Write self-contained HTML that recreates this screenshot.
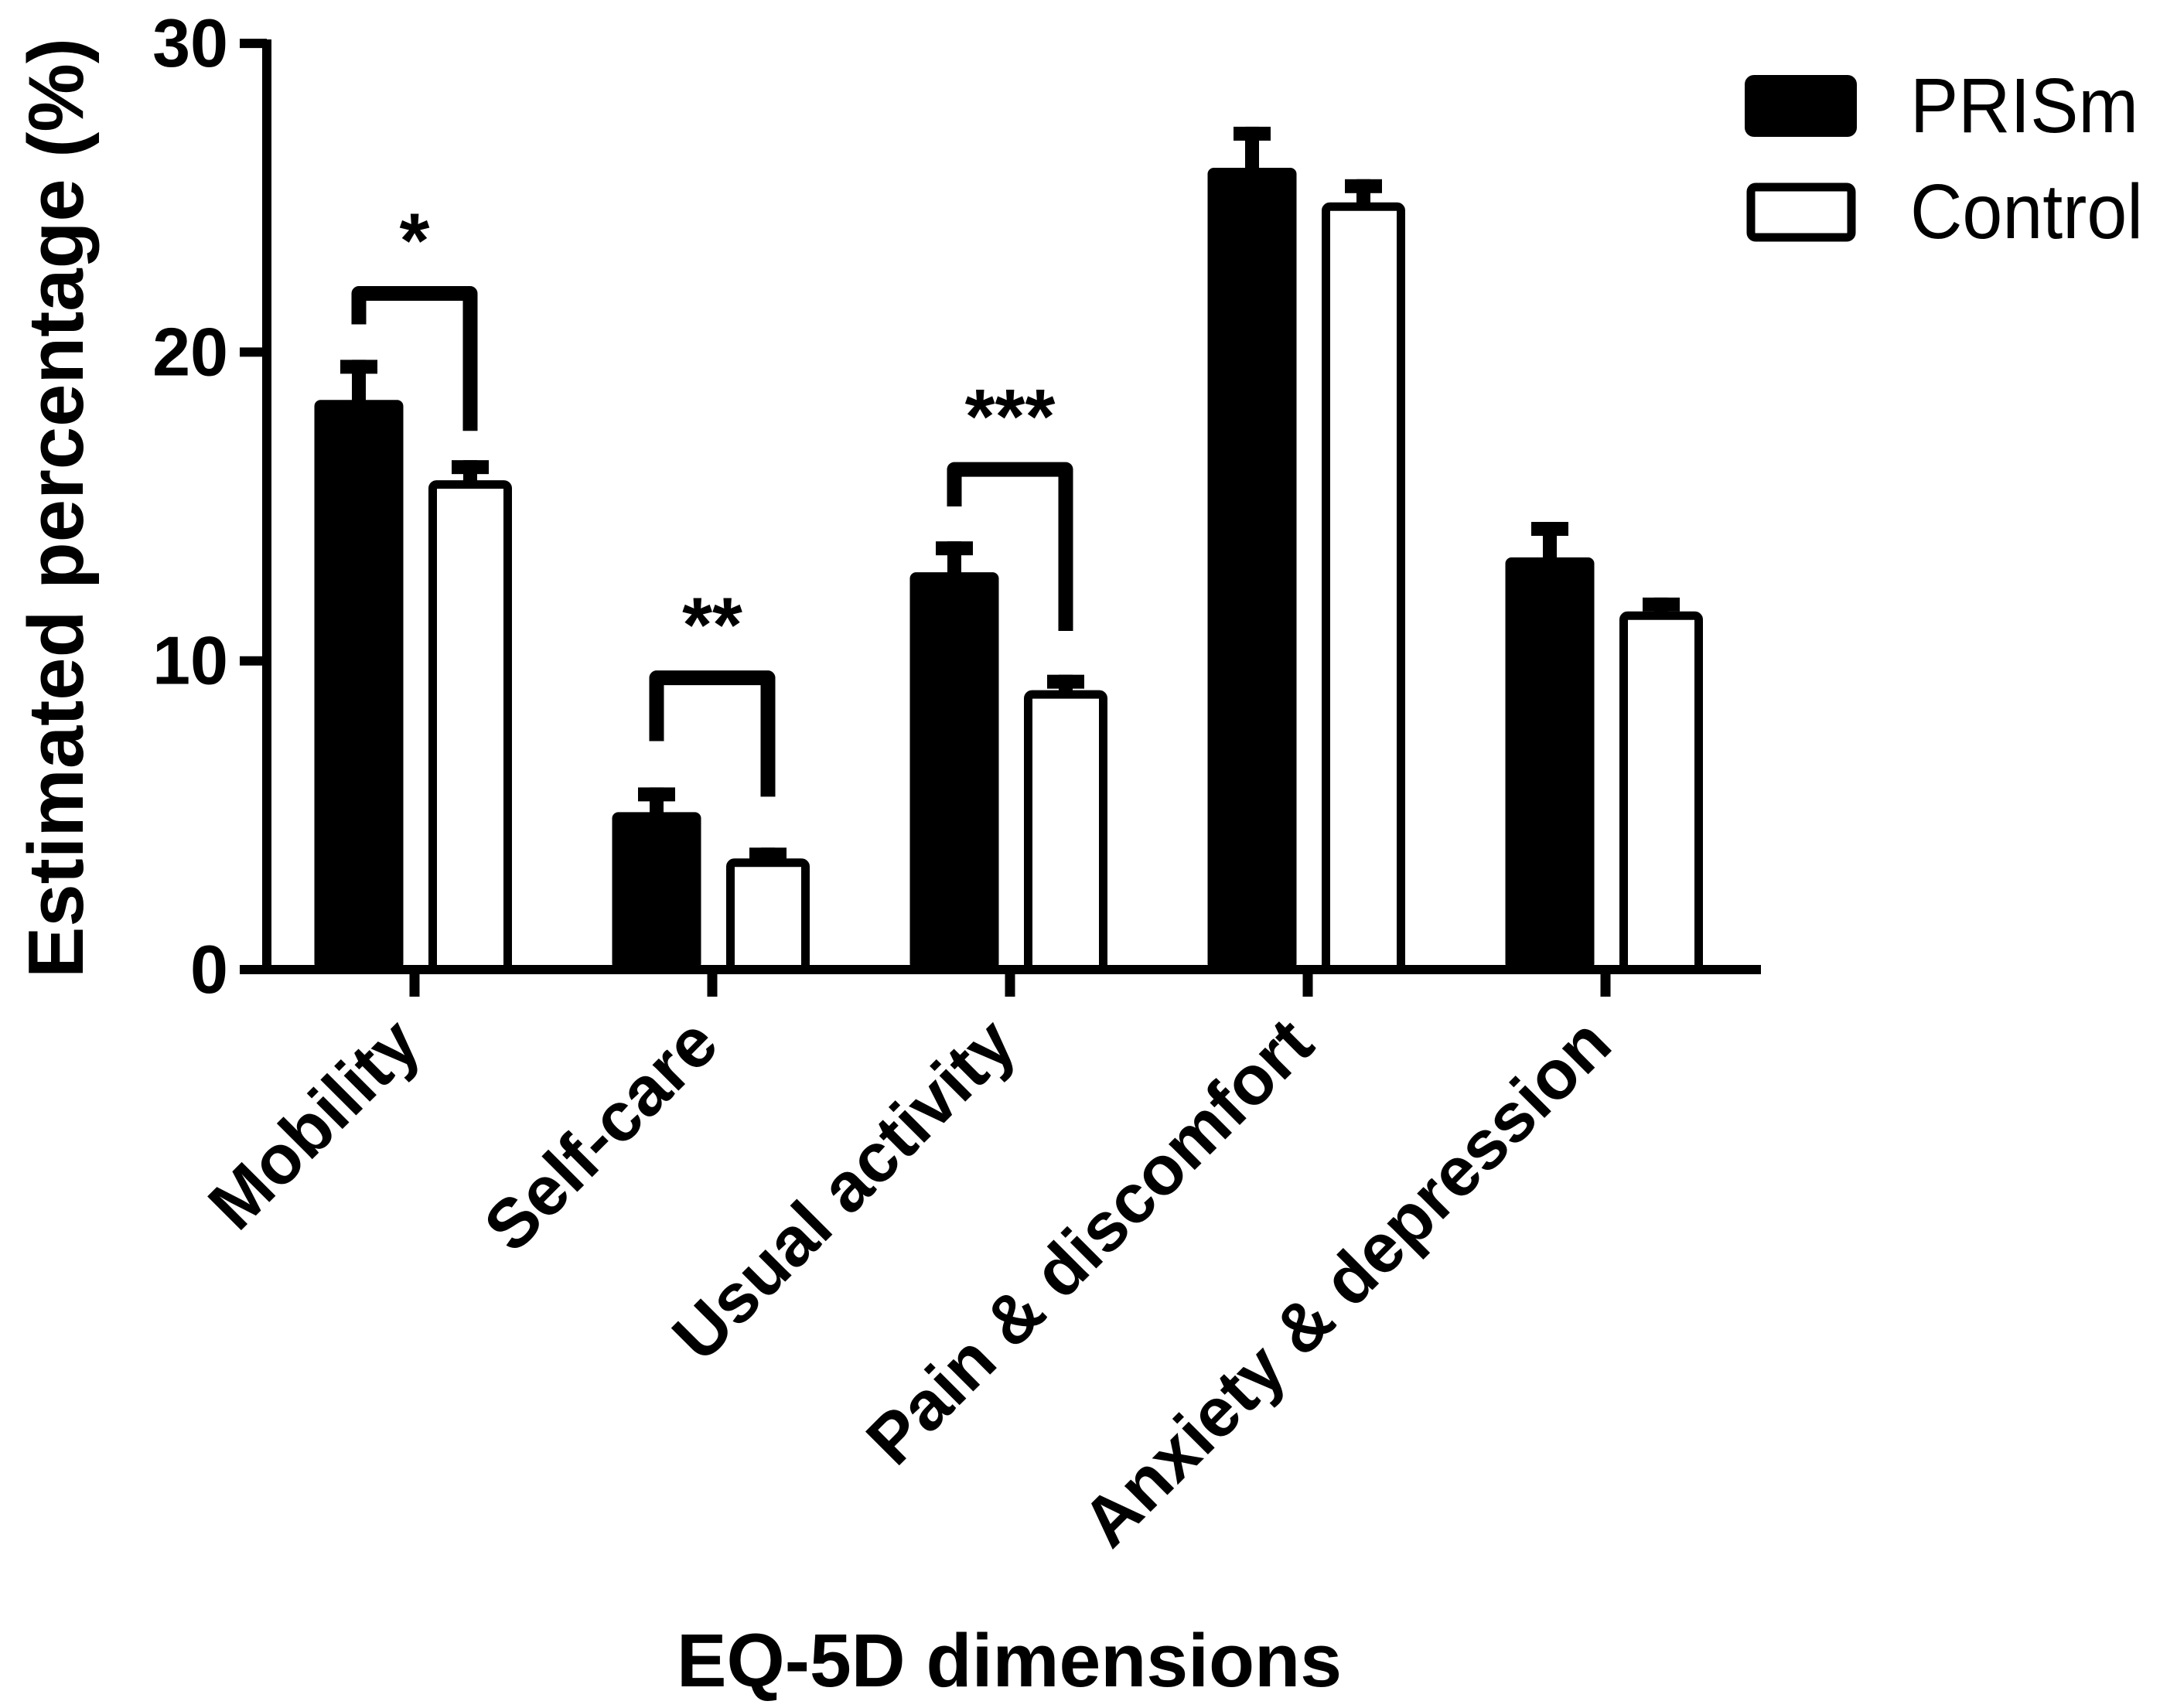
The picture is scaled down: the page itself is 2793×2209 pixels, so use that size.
<!DOCTYPE html>
<html><head><meta charset="utf-8"><style>html,body{margin:0;padding:0;background:#fff}svg{display:block}</style></head>
<body>
<svg id="chart" width="2793" height="2209" viewBox="0 0 2793 2209" xmlns="http://www.w3.org/2000/svg" font-family="Liberation Sans, Arial, sans-serif">
<rect width="2793" height="2209" fill="#fff"/>
<g id="plot"></g>
</svg>
<script>
const categories = ["Mobility", "Self-care", "Usual activity", "Pain & discomfort", "Anxiety & depression"];
const prismValues = [18.45, 5.1, 12.87, 25.97, 13.35];
const prismErrors = [1.3, 0.8, 1.0, 1.33, 1.15];
const controlValues = [15.85, 3.6, 9.05, 24.85, 11.6];
const controlErrors = [0.65, 0.35, 0.5, 0.75, 0.45];
const yTicks = [0, 10, 20, 30];
const sigCategories = [0, 1, 2];
const sigLabels = ["*", "**", "***"];
const sigTop = [21.9, 9.45, 16.2];
const sigLeftEnd = [20.9, 7.4, 15.0];
const sigRightEnd = [17.45, 5.6, 10.97];

const NS = "http://www.w3.org/2000/svg";
const g = document.getElementById('plot');
const Y0 = 1254, PX = 39.93;
function y(v){ return Y0 - v*PX; }
function xc(i){ return 536 + i*385; }
function mk(tag, attrs, parent){ const e=document.createElementNS(NS,tag); for(const k in attrs) e.setAttribute(k,attrs[k]); (parent||g).appendChild(e); return e; }

categories.forEach((c,i)=>{
  const bx = xc(i)-72, wx = xc(i)+72;
  let e = mk('rect',{x:bx-9,y:y(prismValues[i]+prismErrors[i]),width:18,height:y(prismValues[i])-y(prismValues[i]+prismErrors[i])+4,fill:'#000'});
  
  
  e = mk('rect',{x:bx-24,y:y(prismValues[i]+prismErrors[i]),width:48,height:18,fill:'#000'});
  
  
  e = mk('rect',{x:bx-57.5,y:y(prismValues[i]),width:115,height:Y0-y(prismValues[i]),rx:8,fill:'#000'});
  
  
  e = mk('rect',{x:wx-9,y:y(controlValues[i]+controlErrors[i]),width:18,height:y(controlValues[i])-y(controlValues[i]+controlErrors[i])+4,fill:'#000'});
  
  
  e = mk('rect',{x:wx-24,y:y(controlValues[i]+controlErrors[i]),width:48,height:18,fill:'#000'});
  
  
  e = mk('rect',{x:wx-54+5.5,y:y(controlValues[i])+5.5,width:108-11,height:Y0-y(controlValues[i])-5.5,rx:5,fill:'#fff',stroke:'#000','stroke-width':11});
  
  
  e = mk('line',{x1:xc(i),y1:Y0,x2:xc(i),y2:1289,stroke:'#000','stroke-width':13});
  
  
  const lx = xc(i)+12, ly = 1355;
  e = mk('text',{x:lx,y:ly,'text-anchor':'end','font-size':90,'font-weight':'bold',transform:'rotate(-45 '+lx+' '+ly+')'});
  e.textContent = c;
  
  
});

sigCategories.forEach((ci,k)=>{
  const l = xc(ci)-72, r = xc(ci)+72;
  let e = mk('path',{d:`M${l} ${y(sigLeftEnd[k])} L${l} ${y(sigTop[k])} L${r} ${y(sigTop[k])} L${r} ${y(sigRightEnd[k])}`,fill:'none',stroke:'#000','stroke-width':19,'stroke-linejoin':'round'});
  
  
  e = mk('text',{x:(l+r)/2,y:y(sigTop[k])-34,'text-anchor':'middle','font-size':100,'font-weight':'bold'});
  e.textContent = sigLabels[k];
  
  
});

let a = mk('line',{x1:345,y1:51,x2:345,y2:1260,stroke:'#000','stroke-width':12});


a = mk('line',{x1:339,y1:Y0,x2:2277,y2:Y0,stroke:'#000','stroke-width':12});


yTicks.forEach(t=>{
  let e = mk('line',{x1:310,y1:y(t),x2:345,y2:y(t),stroke:'#000','stroke-width':12});
  
  
  e = mk('text',{x:295,y:y(t)+30,'text-anchor':'end','font-size':88,'font-weight':'bold'});
  e.textContent = String(t);
  
  
});
</script>
<svg style="position:absolute;left:0;top:0" width="2793" height="2209" xmlns="http://www.w3.org/2000/svg" font-family="Liberation Sans, Arial, sans-serif">
<text x="107" y="1265" font-size="101" font-weight="bold" textLength="1216" lengthAdjust="spacingAndGlyphs" transform="rotate(-90 107 1265)">Estimated percentage (%)</text>
<text x="1305" y="2181" font-size="97" font-weight="bold" text-anchor="middle" textLength="860" lengthAdjust="spacingAndGlyphs">EQ-5D dimensions</text>
<g>
<rect x="2256" y="97" width="145" height="80" rx="12" fill="#000"/>
<text x="2470" y="171" font-size="100" textLength="295" lengthAdjust="spacingAndGlyphs">PRISm</text>
<rect x="2264" y="242" width="130" height="65" rx="6" fill="#fff" stroke="#000" stroke-width="11"/>
<text x="2470" y="308" font-size="100" textLength="301" lengthAdjust="spacingAndGlyphs">Control</text>
</g>
</svg>
</body></html>
